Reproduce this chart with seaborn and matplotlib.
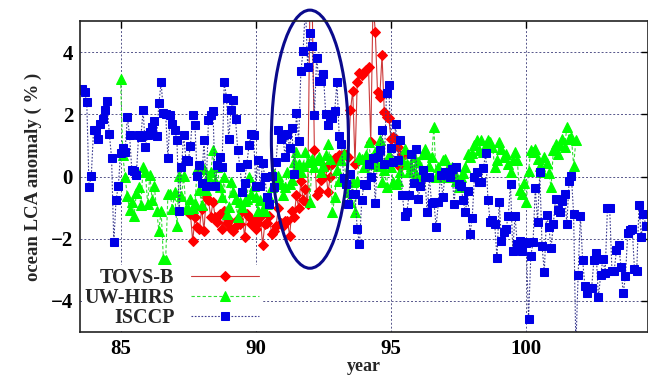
import numpy as np
import pandas as pd
import matplotlib
matplotlib.use("Agg")
import matplotlib.pyplot as plt
import seaborn as sns
from matplotlib.patches import Ellipse

# monthly anomalies (%); values beyond +-5 are clipped in the original
tovs_start = 87.5
tovs_b = [
    -1.14, -1.2, -2.09, -1.3, -1.63, -1.68,
    -1.03, -1.74, -0.67, -0.77, -1.29, -0.83, -1.3, -1.47, -1.2, -1.7, -1.1, -1.48,
    -1.4, -1.7, -1.75, -1.59, -1.37, -1.53, -1.1, -1.96, -1.2, -1.31, -1.53, -1.4,
    -1.7, -1.48, -1.3, -2.2, -1.53, -1.48, -1.26, -1.85, -1.75, -1.59, -1.0, -1.48,
    -1.59, -1.42, -1.42, -1.9, -1.1, -1.3, -0.61, -1.0, -0.13, -0.77, -0.4, -0.9,
    5.6, 5.6, 0.84, -0.6, -0.47, -0.1, -0.02, 0.3, -0.5, -0.02, 0.41, 0.6,
    0.57, 0.68, 0.66, 0.73, 0.7, 0.62, 2.13, 2.76, 0.41, 3.04, 3.32, 3.26,
    3.37, 3.44, 3.53, 1.1, 5.6, 4.66, 2.72, 2.56, 3.9, 2.07, 1.91, 1.88,
    1.21, 1.27, 1.21, 0.95, 0.3, 0.68, 0.73,
]

uw_start = 85.0
uw_hirs = [
    3.12, 0.69, -0.02, -0.63, -1.07, -0.83, -1.26, -0.53, -0.34, -0.93, 0.3, 0.13,
    -0.88, 0.06, -0.77, -0.32, -1.1, -1.74, -1.1, -2.66, -2.69, -0.56, -0.56, -1.04,
    -0.5, -1.6, 0.01, -0.63, 0.01, -1.04, -1.04, -0.72, -1.01, -0.86, 0.24, -0.45,
    -0.93, 0.24, -0.45, 0.01, 0.13, 0.84, -0.13, 0.3, -0.34, -0.67, -0.02, -1.2,
    -0.99, -0.19, -0.5, -0.72, -1.31, -0.83, -0.99, -0.8, -0.72, -0.02, -0.56, -0.3,
    -0.67, -1.1, -0.77, -1.04, -1.1, -0.9, -0.67, -0.34, 0.08, -0.13, 0.01, -0.24,
    -0.58, -0.34, 0.13, -0.24, -0.1, 0.46, 0.79, 0.41, 0.13, 0.35, 0.79, 0.46,
    -0.83, 0.57, 0.3, 0.52, 0.64, 0.13, 0.35, 0.68, 1.03, 0.57, -1.15, -0.67,
    0.2, -0.13, 0.52, 0.73, -0.13, -0.5, -0.83, -0.19, -1.15, -0.13, 0.62, 0.57,
    0.3, 0.68, 1.1, 0.6, 0.41, 0.79, 0.35, 1.16, -0.19, 0.21, -0.34, 0.68,
    0.3, -0.19, -0.24, -0.13, 0.13, 0.52, 0.89, 0.41, 0.13, 0.35, 0.62, 0.08,
    0.46, -0.13, 0.73, 0.89, 0.73, 0.35, 0.62, 1.59, -0.02, 0.3, -0.02, 0.52,
    0.57, 0.2, -0.02, 0.3, 0.13, -0.13, -0.34, -0.02, 0.1, 0.3, 0.73, 0.62,
    0.75, 1.0, 1.16, 0.84, 1.16, 0.79, 1.0, 1.16, 1.1, 0.95, 0.3, 0.52,
    1.1, 0.89, 0.62, 0.73, 0.4, 0.13, 0.52, 0.79, 0.52, -0.45, -0.56, -0.2,
    -0.83, 0.19, 0.84, 0.79, 0.89, 0.57, 0.35, 0.13, 0.62, 0.43, 0.1, -0.34,
    0.84, 1.05, 0.73, 1.0, 1.21, 0.95, 1.59, 1.21, 1.27, 0.35, 1.16,
]

isccp_start = 83.5
isccp = [
    2.77, 2.8, 2.72, 2.4, -0.34, 0.01,
    1.48, 1.5, 1.19, 1.68, 1.85, 2.13, 2.42, 1.38, 0.61, -2.12, -0.74, -0.31,
    0.75, 0.91, 0.8, 1.91, 1.32, 0.2, 0.17, 0.06, 1.32, 1.27, 2.13, 0.95,
    1.32, 1.43, 1.6, 1.77, 1.3, 2.35, 3.03, 2.03, 2.0, 0.61, 1.97, 1.7,
    1.5, 1.16, -1.1, 0.3, 1.32, 0.53, 0.5, 0.99, 1.97, 1.64, 0.01, 0.38,
    -0.2, 1.16, -0.3, 1.83, 1.97, 2.1, -0.3, 0.36, 0.64, 0.3, 3.04, 2.54,
    1.19, 2.15, 2.45, 1.84, 0.84, 0.3, -0.5, -0.2, 0.41, 1.0, 1.38, 1.32,
    -0.3, 0.53, -0.3, 0.43, 0.0, -0.67, -0.88, 0.01, -0.34, 0.48, 1.48, 1.21,
    1.32, 0.62, 1.38, 0.93, 1.56, 0.08, 2.04, 1.14, 3.4, 4.04, 5.5, 3.53,
    4.6, 4.2, 1.97, 3.82, 3.06, 3.06, 3.3, 2.02, 1.67, 1.91, 1.88, 2.1,
    3.04, 1.29, 1.03, -0.06, -0.24, -0.88, 0.08, -0.56, -0.56, -1.69, -2.17, -0.77,
    -0.24, -0.26, 0.41, 0.0, 0.6, -0.85, 0.62, 0.84, 1.5, 0.41, 2.69, 2.93,
    0.91, 0.46, 1.7, 0.53, 1.16, -0.58, -1.26, -1.15, -0.59, 0.73, -0.21, 0.89,
    -0.72, -0.31, 0.21, 0.0, -1.15, -0.02, -0.86, -0.83, -1.61, -0.83, 0.06, -0.67,
    0.16, 0.13, -0.02, 0.24, -0.9, 0.3, -0.24, -0.3, -0.77, -1.15, -0.47, -1.85,
    -1.34, -0.02, 0.13, -0.17, -0.17, 0.28, 0.75, -0.77, -1.45, -1.39, -1.54, -2.62,
    -0.83, -2.09, -1.8, -1.69, -1.26, -0.24, -2.39, -1.26, -2.17, -2.06, -2.39, -2.12,
    -2.13, -4.59, -2.55, -2.12, -0.36, -1.47, 0.13, -2.25, -3.06, -1.24, -1.63, -2.3,
    -1.53, -0.72, -1.07, -1.13, -0.8, -0.56, -1.54, -0.13, 0.03, -1.21, -5.5, -3.16,
    -1.26, -2.69, -3.52, -3.76, -3.6, -3.57, -2.69, -2.47, -3.89, -3.16, -2.66, -3.09,
    -1.02, -1.02, -3.03, -3.03, -2.37, -2.19, -2.9, -3.76, -3.2, -1.83, -1.72, -1.69,
    -2.98, -3.03, -0.92, -1.96, -1.19, -1.59,
]


def monthly(start, values):
    return start + np.arange(len(values)) / 12.0


series = [
    ("TOVS-B", tovs_start, tovs_b,
     dict(color="#cc3a3a", linestyle="-", marker="D", markersize=5.2,
          markerfacecolor="#ff0000", markeredgecolor="#ff0000")),
    ("UW-HIRS", uw_start, uw_hirs,
     dict(color="#33dd33", linestyle=(0, (3, 2)), marker="^", markersize=7,
          markerfacecolor="#00ff00", markeredgecolor="#00ff00")),
    ("ISCCP", isccp_start, isccp,
     dict(color="#3a3a90", linestyle=(0, (1.5, 1.5)), marker="s", markersize=5.5,
          markerfacecolor="#0000e6", markeredgecolor="#0000e6")),
]

sns.set_theme(style="white")
plt.rcParams["font.family"] = ["Liberation Serif", "DejaVu Serif"]
plt.rcParams["font.weight"] = "bold"
plt.rcParams["axes.labelweight"] = "bold"

fig, ax = plt.subplots(figsize=(6.48, 3.75), dpi=100)
fig.subplots_adjust(left=80 / 648, right=1.0, bottom=43 / 375, top=354 / 375)

for name, start, vals, style in series:
    df = pd.DataFrame({"year": monthly(start, vals), "anomaly": vals})
    sns.lineplot(data=df, x="year", y="anomaly", ax=ax, label=name,
                 linewidth=0.8, sort=False, estimator=None, **style)

ax.set_xlim(83.5, 104.5)
ax.set_ylim(-5, 5)
ax.set_xticks([85, 90, 95, 100])
ax.set_yticks([-4, -2, 0, 2, 4])
ax.grid(True, color="#55558a", linestyle=(0, (2, 2)), linewidth=0.7)
ax.set_axisbelow(True)
ax.tick_params(direction="in", length=5, width=1, top=True, right=True,
               labelsize=15, colors="black", pad=5)
for sp in ax.spines.values():
    sp.set_color("#222222")
    sp.set_linewidth(1.2)
    sp.set_zorder(7)

ax.set_xlabel("year", fontsize=13, labelpad=-1)
ax.set_ylabel("ocean LCA anomaly ( % )", fontsize=13.5, labelpad=6)

# highlight around the early-1990s spike
ax.add_patch(Ellipse((92.0, 1.2), 2.85, 8.3, fill=False, edgecolor="#0a0a8c",
                     linewidth=2.2, clip_on=False, zorder=6))

leg = ax.legend(loc="lower left", bbox_to_anchor=(0.003, 0.004), markerfirst=False,
                fontsize=14.5, handlelength=3.4, handletextpad=0.8, labelspacing=0.0,
                borderpad=0.15, borderaxespad=0, frameon=True, fancybox=False,
                facecolor="white", edgecolor="none", framealpha=1)
for t in leg.get_texts():
    t.set_fontweight("bold")

fig.savefig("out.png", dpi=100)
